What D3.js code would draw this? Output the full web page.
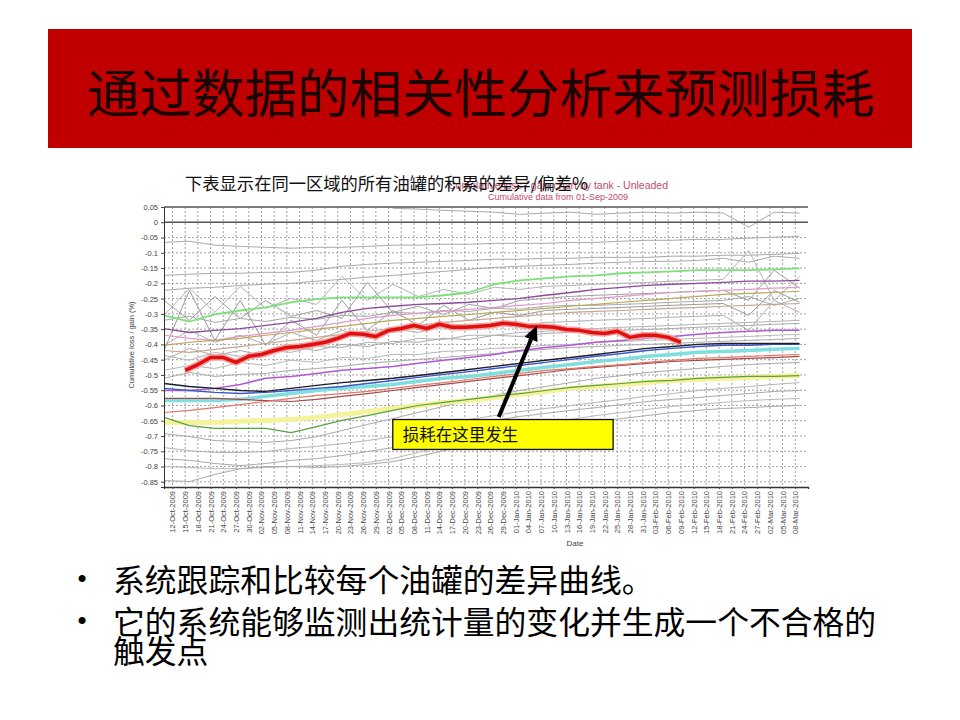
<!DOCTYPE html>
<html><head><meta charset="utf-8">
<script src="https://cdn.jsdelivr.net/npm/d3@7"></script>
<style>body{margin:0;background:#fff}svg{display:block}</style>
</head><body><svg id="c" width="960" height="720"></svg>
<script>
// ---------- text ----------
const titleText = "通过数据的相关性分析来预测损耗";
const chartCaption = "下表显示在同一区域的所有油罐的积累的差异/偏差%";
const chartTitleEn = "Cumulative loss / gain chart by tank - Unleaded";
const chartSubEn = "Cumulative data from 01-Sep-2009";
const yAxisTitle = "Cumulative loss / gain (%)";
const xAxisTitle = "Date";
const calloutText = "损耗在这里发生";
const bulletLines = [["系统跟踪和比较每个油罐的差异曲线。"], ["它的系统能够监测出统计量的变化并生成一个不合格的", "触发点"]];

// ---------- axes ----------
const yTicks = [0.05,0,-0.05,-0.1,-0.15,-0.2,-0.25,-0.3,-0.35,-0.4,-0.45,-0.5,-0.55,-0.6,-0.65,-0.7,-0.75,-0.8,-0.85];
const xDomain = [new Date(2009,9,10), new Date(2010,2,11)];
const firstTick = new Date(2009,9,12), tickCount = 50, tickStepDays = 3;

// ---------- data (cumulative loss/gain %, sampled every 6 days from 10-Oct-2009) ----------
const seriesStart = new Date(2009,9,10), seriesStepDays = 6;
const gTop = [null,null,null,null,null,null,null,null,null,0.046,0.043,0.039,0.036,0.033,0.026,0.030,0.033,0.026,0.030,0.033,0.030,0.033,0.030,-0.016,0.033,0.030];
const g240 = [-0.066,-0.062,-0.075,-0.079,-0.082,-0.085,-0.082,-0.082,-0.079,-0.075,-0.075,-0.072,-0.072,-0.069,-0.069,-0.069,-0.066,-0.066,-0.062,-0.059,-0.059,-0.056,-0.056,-0.052,-0.049,-0.046];
const g260 = [-0.174,-0.170,-0.167,-0.167,-0.164,-0.164,-0.157,-0.144,-0.138,-0.134,-0.131,-0.128,-0.125,-0.121,-0.121,-0.118,-0.118,-0.115,-0.115,-0.115,-0.111,-0.111,-0.108,-0.108,-0.105,-0.102];
const g285 = [-0.223,-0.216,-0.213,-0.207,-0.203,-0.200,-0.193,-0.187,-0.180,-0.174,-0.167,-0.161,-0.154,-0.148,-0.144,-0.141,-0.138,-0.134,-0.131,-0.128,-0.128,-0.125,-0.118,-0.131,-0.111,-0.118];
const spikyA = [-0.305,-0.216,-0.295,-0.210,-0.282,-0.249,-0.269,-0.177,-0.256,-0.203,-0.243,-0.220,-0.236,-0.213,-0.220,-0.210,-0.207,-0.203,-0.200,-0.197,-0.193,-0.190,-0.187,-0.092,-0.256,-0.177];
const spikyB = [-0.256,-0.321,-0.243,-0.315,-0.256,-0.308,-0.289,-0.315,-0.197,-0.295,-0.275,-0.302,-0.269,-0.282,-0.256,-0.249,-0.243,-0.239,-0.236,-0.233,-0.230,-0.226,-0.223,-0.256,-0.157,-0.216];
const gm1 = [-0.321,-0.308,-0.328,-0.315,-0.325,-0.311,-0.318,-0.305,-0.308,-0.295,-0.298,-0.289,-0.292,-0.282,-0.285,-0.275,-0.272,-0.272,-0.269,-0.266,-0.262,-0.259,-0.256,-0.243,-0.272,-0.249];
const gm2 = [-0.403,-0.354,-0.393,-0.370,-0.400,-0.361,-0.387,-0.354,-0.374,-0.348,-0.361,-0.341,-0.348,-0.334,-0.338,-0.328,-0.325,-0.321,-0.318,-0.315,-0.311,-0.308,-0.305,-0.354,-0.256,-0.295];
const gm3 = [-0.452,-0.413,-0.436,-0.420,-0.439,-0.407,-0.420,-0.400,-0.407,-0.390,-0.393,-0.380,-0.384,-0.370,-0.374,-0.364,-0.361,-0.357,-0.354,-0.351,-0.348,-0.344,-0.341,-0.338,-0.334,-0.331];
const gm4 = [-0.485,-0.469,-0.479,-0.459,-0.469,-0.452,-0.459,-0.443,-0.446,-0.433,-0.433,-0.423,-0.420,-0.413,-0.410,-0.403,-0.400,-0.393,-0.390,-0.387,-0.384,-0.380,-0.377,-0.374,-0.370,-0.367];
const gm5 = [-0.511,-0.492,-0.505,-0.498,-0.495,-0.485,-0.479,-0.472,-0.462,-0.456,-0.449,-0.443,-0.436,-0.430,-0.423,-0.416,-0.410,-0.407,-0.403,-0.400,-0.397,-0.393,-0.390,-0.387,-0.384,-0.380];
const gm6 = [-0.420,-0.223,-0.387,-0.256,-0.403,-0.321,-0.370,-0.256,-0.354,-0.289,-0.338,-0.272,-0.321,-0.295,-0.305,-0.289,-0.285,-0.282,-0.279,-0.275,-0.272,-0.269,-0.266,-0.305,-0.223,-0.262];
const gm7 = [-0.436,-0.452,-0.426,-0.439,-0.420,-0.426,-0.407,-0.410,-0.393,-0.397,-0.380,-0.384,-0.370,-0.370,-0.361,-0.357,-0.351,-0.348,-0.344,-0.341,-0.338,-0.334,-0.331,-0.328,-0.325,-0.321];
const lg1 = [-0.692,-0.702,-0.715,-0.718,-0.721,-0.715,-0.702,-0.682,-0.662,-0.643,-0.623,-0.603,-0.584,-0.567,-0.551,-0.538,-0.525,-0.511,-0.502,-0.492,-0.485,-0.479,-0.472,-0.466,-0.462,-0.459];
const lg2 = [-0.738,-0.748,-0.754,-0.754,-0.751,-0.741,-0.734,-0.725,-0.715,-0.702,-0.682,-0.662,-0.646,-0.633,-0.620,-0.610,-0.600,-0.590,-0.580,-0.570,-0.561,-0.551,-0.544,-0.538,-0.531,-0.525];
const lg3 = [-0.774,-0.780,-0.790,-0.797,-0.790,-0.780,-0.774,-0.764,-0.751,-0.738,-0.715,-0.689,-0.666,-0.649,-0.636,-0.626,-0.616,-0.607,-0.597,-0.587,-0.580,-0.574,-0.567,-0.561,-0.554,-0.551];
const lg4 = [-0.800,-0.803,-0.807,-0.807,-0.803,-0.800,-0.797,-0.793,-0.787,-0.774,-0.754,-0.731,-0.708,-0.689,-0.672,-0.659,-0.646,-0.633,-0.623,-0.613,-0.603,-0.597,-0.590,-0.584,-0.580,-0.577];
const lg5 = [-0.846,-0.849,-0.826,-0.807,-0.800,-0.800,-0.803,-0.800,-0.793,-0.784,-0.767,-0.748,-0.728,-0.708,-0.692,-0.679,-0.666,-0.652,-0.643,-0.633,-0.623,-0.616,-0.610,-0.607,-0.603,-0.600];
const green = [-0.305,-0.325,-0.302,-0.289,-0.279,-0.262,-0.252,-0.246,-0.246,-0.246,-0.246,-0.239,-0.230,-0.203,-0.190,-0.184,-0.177,-0.174,-0.167,-0.164,-0.161,-0.157,-0.157,-0.157,-0.154,-0.151];
const purple = [-0.348,-0.361,-0.354,-0.348,-0.338,-0.328,-0.315,-0.295,-0.282,-0.275,-0.269,-0.266,-0.262,-0.256,-0.249,-0.239,-0.230,-0.220,-0.213,-0.207,-0.203,-0.200,-0.197,-0.193,-0.193,-0.190];
const pink = [-0.370,-0.380,-0.387,-0.374,-0.364,-0.354,-0.341,-0.328,-0.315,-0.305,-0.298,-0.292,-0.285,-0.279,-0.272,-0.266,-0.256,-0.249,-0.243,-0.236,-0.230,-0.226,-0.223,-0.220,-0.216,-0.213];
const olive = [-0.403,-0.393,-0.387,-0.380,-0.370,-0.361,-0.351,-0.341,-0.331,-0.321,-0.315,-0.308,-0.302,-0.295,-0.289,-0.282,-0.275,-0.269,-0.262,-0.256,-0.249,-0.243,-0.236,-0.233,-0.230,-0.226];
const tan = [-0.420,-0.426,-0.416,-0.407,-0.397,-0.387,-0.377,-0.367,-0.357,-0.348,-0.338,-0.328,-0.321,-0.315,-0.308,-0.302,-0.295,-0.292,-0.289,-0.285,-0.282,-0.279,-0.275,-0.272,-0.269,-0.266];
const black = [-0.528,-0.538,-0.544,-0.551,-0.554,-0.544,-0.534,-0.525,-0.518,-0.511,-0.502,-0.492,-0.482,-0.472,-0.462,-0.452,-0.443,-0.433,-0.423,-0.413,-0.407,-0.400,-0.397,-0.397,-0.397,-0.397];
const blue = [-0.544,-0.551,-0.557,-0.561,-0.557,-0.551,-0.544,-0.538,-0.528,-0.518,-0.508,-0.498,-0.489,-0.479,-0.469,-0.459,-0.449,-0.439,-0.430,-0.420,-0.413,-0.407,-0.403,-0.403,-0.400,-0.400];
const cyan = [-0.584,-0.584,-0.584,-0.580,-0.570,-0.561,-0.551,-0.544,-0.538,-0.531,-0.521,-0.511,-0.505,-0.495,-0.485,-0.475,-0.466,-0.456,-0.449,-0.439,-0.433,-0.426,-0.423,-0.420,-0.416,-0.413];
const violet = [-0.551,-0.551,-0.544,-0.531,-0.511,-0.505,-0.495,-0.485,-0.479,-0.472,-0.462,-0.452,-0.443,-0.433,-0.420,-0.410,-0.403,-0.393,-0.387,-0.380,-0.374,-0.367,-0.361,-0.357,-0.354,-0.354];
const brown = [-0.577,-0.577,-0.577,-0.580,-0.584,-0.587,-0.580,-0.570,-0.561,-0.551,-0.541,-0.531,-0.521,-0.511,-0.502,-0.492,-0.482,-0.475,-0.469,-0.462,-0.456,-0.452,-0.449,-0.446,-0.443,-0.439];
const salmon = [-0.623,-0.616,-0.607,-0.597,-0.587,-0.577,-0.567,-0.561,-0.554,-0.544,-0.534,-0.525,-0.515,-0.505,-0.495,-0.485,-0.479,-0.472,-0.466,-0.459,-0.452,-0.446,-0.443,-0.439,-0.436,-0.433];
const yellow = [-0.656,-0.656,-0.656,-0.652,-0.649,-0.646,-0.639,-0.630,-0.620,-0.610,-0.600,-0.590,-0.584,-0.574,-0.564,-0.554,-0.544,-0.538,-0.531,-0.525,-0.518,-0.515,-0.511,-0.508,-0.505,-0.502];
const darkGreen = [-0.639,-0.666,-0.675,-0.675,-0.675,-0.689,-0.669,-0.649,-0.633,-0.616,-0.600,-0.590,-0.580,-0.570,-0.561,-0.551,-0.541,-0.534,-0.528,-0.521,-0.518,-0.511,-0.508,-0.505,-0.505,-0.502];
// highlighted tank: every 3 days from 15-Oct-2009
const redStart = new Date(2009,9,15), redStepDays = 3;
const redTank = [-0.485,-0.466,-0.443,-0.443,-0.459,-0.439,-0.433,-0.420,-0.410,-0.407,-0.400,-0.393,-0.380,-0.364,-0.367,-0.374,-0.354,-0.348,-0.338,-0.348,-0.334,-0.344,-0.344,-0.341,-0.338,-0.331,-0.334,-0.341,-0.341,-0.344,-0.351,-0.354,-0.361,-0.364,-0.357,-0.377,-0.370,-0.370,-0.377,-0.393];
// callout anchors (data space)
const arrowTip = [new Date(2010,0,6), -0.338];
const arrowTail = [new Date(2009,11,28), -0.638];
const calloutBox = [new Date(2009,11,3), new Date(2010,0,24), -0.646, -0.744];

// ---------- drawing ----------
const svg = d3.select("#c");
const CJK = "'Noto Sans CJK SC','Noto Sans',sans-serif";
const LAT = "'Liberation Sans',Arial,sans-serif";

// title banner
svg.append("rect").attr("x",48).attr("y",29).attr("width",864).attr("height",119).attr("fill","#c00000");
svg.append("text").attr("x",481).attr("y",90).attr("text-anchor","middle").attr("dominant-baseline","central")
  .attr("font-family",CJK).attr("font-size",52.5).attr("fill","#1a0505").text(titleText);

const x = d3.scaleTime().domain(xDomain).range([164,808]);
const y = d3.scaleLinear().domain([-0.867,0.05]).range([487,207]);

// chart titles
svg.append("text").attr("x",558).attr("y",189).attr("text-anchor","middle").attr("font-family",LAT)
  .attr("font-size",10.5).attr("fill","#c24a6e").text(chartTitleEn);
svg.append("text").attr("x",558).attr("y",200).attr("text-anchor","middle").attr("font-family",LAT)
  .attr("font-size",9).attr("fill","#c24a6e").text(chartSubEn);
svg.append("text").attr("x",185).attr("y",190).attr("font-family",CJK).attr("font-size",17.3)
  .attr("fill","#111").text(chartCaption);

// grid
const ticks = d3.range(tickCount).map(i => d3.timeDay.offset(firstTick, i*tickStepDays));
const grid = svg.append("g");
grid.selectAll("line.v").data(ticks).join("line").attr("x1",d=>x(d)).attr("x2",d=>x(d))
  .attr("y1",y(0.05)).attr("y2",487).attr("stroke","#8a8a8a").attr("stroke-width",0.8).attr("stroke-dasharray","2,2");
grid.selectAll("line.h").data(yTicks.filter(v=>v!==0 && v!==0.05)).join("line").attr("x1",164).attr("x2",808)
  .attr("y1",d=>y(d)).attr("y2",d=>y(d)).attr("stroke","#8a8a8a").attr("stroke-width",0.8).attr("stroke-dasharray","2,2");

// series
const clip = svg.append("clipPath").attr("id","pc").append("rect").attr("x",164).attr("y",y(0.05)).attr("width",644).attr("height",487-y(0.05));
const plot = svg.append("g").attr("clip-path","url(#pc)");
const sx = i => x(d3.timeDay.offset(seriesStart, i*seriesStepDays));
const lineGen = d3.line().defined(d=>d!=null).x((d,i)=>sx(i)).y(d=>y(d));
const GR = "#a9a9a9";
const series = [
  [gTop,GR,1],[g240,GR,1],[g260,GR,1],[g285,GR,1],[spikyA,"#b4b4b4",1],[spikyB,"#a0a0a0",1],
  [gm1,GR,1],[gm2,"#b0b0b0",1],[gm3,GR,1],[gm4,"#b8b8b8",1],[gm5,GR,1],[gm6,"#9a9a9a",1],[gm7,"#b4b4b4",1],
  [lg1,GR,1],[lg2,"#b4b4b4",1],[lg3,GR,1],[lg4,"#b8b8b8",1],[lg5,GR,1],
  [yellow,"#f4f29a",5],[cyan,"#7fdede",3.5],
  [green,"#7ee07a",1.8],[purple,"#8a4a9a",1.3],[pink,"#e29ac8",1.2],[olive,"#b8a85a",1.2],[tan,"#c8a890",1.2],
  [brown,"#a8484a",1.2],[salmon,"#e07868",1.2],[violet,"#b05ad2",1.5],[darkGreen,"#5aa040",1.2],
  [blue,"#3a58c8",1.4],[black,"#1c1c2c",1.4]
];
plot.selectAll("path.s").data(series).join("path").attr("fill","none")
  .attr("stroke",d=>d[1]).attr("stroke-width",d=>d[2]).attr("stroke-linejoin","round")
  .attr("d",d=>lineGen(d[0]));
const redGen = d3.line().x((d,i)=>x(d3.timeDay.offset(redStart,i*redStepDays))).y(d=>y(d));
plot.append("path").attr("fill","none").attr("stroke","#f2a0a0").attr("stroke-width",6.5).attr("stroke-linejoin","round").attr("d",redGen(redTank));
plot.append("path").attr("fill","none").attr("stroke","#e01010").attr("stroke-width",3.5).attr("stroke-linejoin","round").attr("d",redGen(redTank));

// solid reference lines
svg.append("line").attr("x1",164).attr("x2",808).attr("y1",y(0.05)).attr("y2",y(0.05)).attr("stroke","#555").attr("stroke-width",1.3);
svg.append("line").attr("x1",164).attr("x2",808).attr("y1",y(0)).attr("y2",y(0)).attr("stroke","#555").attr("stroke-width",1.3);

// y axis
const yAxis = svg.append("g").attr("transform","translate(164,0)")
  .call(d3.axisLeft(y).tickValues(yTicks).tickSize(3).tickFormat(v=>String(+v.toFixed(2))));
yAxis.select(".domain").attr("stroke","#333");
yAxis.selectAll("text").attr("font-family",LAT).attr("font-size",7.5).attr("fill","#444");
yAxis.selectAll(".tick line").attr("stroke","#444");
svg.append("text").attr("transform","translate(134,345) rotate(-90)").attr("text-anchor","middle")
  .attr("font-family",LAT).attr("font-size",7.5).attr("fill","#444").text(yAxisTitle);

// x axis
const xAxis = svg.append("g").attr("transform","translate(0,487)")
  .call(d3.axisBottom(x).tickValues(ticks).tickSize(2).tickFormat(d3.timeFormat("%d-%b-%Y")));
xAxis.select(".domain").attr("stroke","#333").attr("stroke-width",1.3);
xAxis.selectAll(".tick line").attr("stroke","#444");
xAxis.selectAll("text").attr("font-family",LAT).attr("font-size",7.5).attr("fill","#444")
  .attr("transform","rotate(-90)").attr("text-anchor","end").attr("dominant-baseline","central")
  .attr("x",-4).attr("y",0).attr("dy",null);
svg.append("text").attr("x",575).attr("y",546).attr("text-anchor","middle").attr("font-family",LAT)
  .attr("font-size",8).attr("fill","#444").text(xAxisTitle);

// callout
const bx0 = x(calloutBox[0]), bx1 = x(calloutBox[1]), by0 = y(calloutBox[2]), by1 = y(calloutBox[3]);
svg.append("rect").attr("x",bx0).attr("y",by0).attr("width",bx1-bx0).attr("height",by1-by0)
  .attr("fill","#ffff00").attr("stroke","#111").attr("stroke-width",1.3);
svg.append("text").attr("x",bx0+10).attr("y",(by0+by1)/2).attr("dominant-baseline","central")
  .attr("font-family",CJK).attr("font-size",16.5).attr("fill","#111").text(calloutText);
const tx = x(arrowTip[0]), ty = y(arrowTip[1]), ax = x(arrowTail[0]), ay = y(arrowTail[1]);
const ang = Math.atan2(ty-ay, tx-ax), hl = 15, hw = 7;
const bxh = tx - hl*Math.cos(ang), byh = ty - hl*Math.sin(ang);
svg.append("line").attr("x1",ax).attr("y1",ay).attr("x2",bxh).attr("y2",byh).attr("stroke","#000").attr("stroke-width",4);
svg.append("path").attr("fill","#000").attr("d",
  `M${tx},${ty}L${bxh+hw*Math.sin(ang)},${byh-hw*Math.cos(ang)}L${bxh-hw*Math.sin(ang)},${byh+hw*Math.cos(ang)}Z`);

// bullets
const bulletY = [[578],[620,649]];
bulletLines.forEach((lines,bi)=>{
  svg.append("text").attr("x",82).attr("y",bulletY[bi][0]).attr("text-anchor","middle").attr("dominant-baseline","central")
    .attr("font-family",LAT).attr("font-size",26).attr("fill","#000").text("•");
  lines.forEach((t,li)=>{
    svg.append("text").attr("x",113).attr("y",bulletY[bi][li]).attr("dominant-baseline","central")
      .attr("font-family",CJK).attr("font-size",31.8).attr("fill","#000").text(t);
  });
});
</script></body></html>
